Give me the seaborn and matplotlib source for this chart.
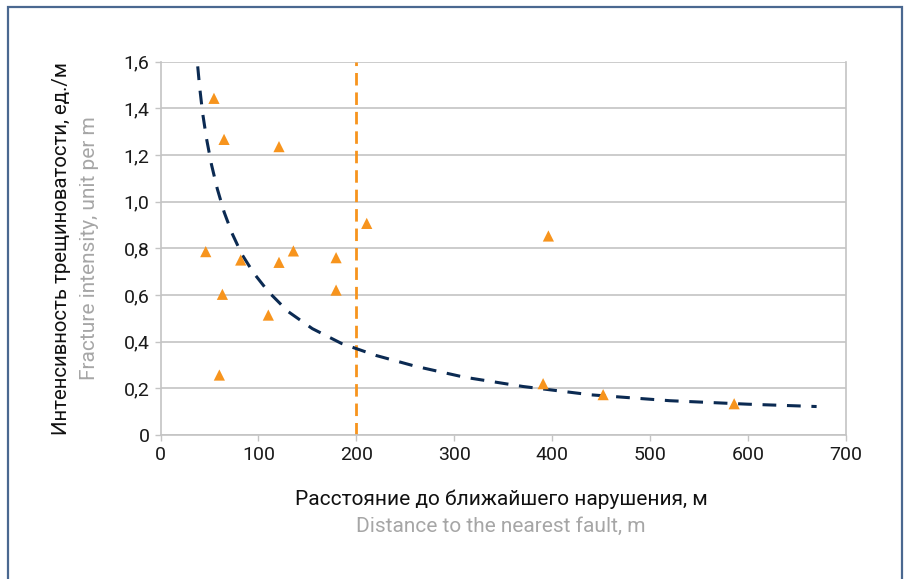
import matplotlib
matplotlib.use("Agg")
import matplotlib.pyplot as plt
import seaborn as sns
import pandas as pd
from matplotlib.patches import Rectangle

# ---- data ----
distance = [54.6, 64.9, 121.0, 46.2, 81.9, 121.0, 135.7, 179.3, 210.6, 63.2,
            179.3, 110.1, 60.1, 396.1, 390.7, 452.0, 585.8]
intensity = [1.443, 1.267, 1.236, 0.786, 0.750, 0.740, 0.789, 0.760, 0.907, 0.603,
             0.621, 0.514, 0.257, 0.853, 0.220, 0.173, 0.134]

# dashed trend line
trend_x = [38, 40, 43, 47, 52, 58, 65, 73, 83, 95, 110, 130, 155, 185, 220,
           260, 310, 370, 440, 520, 600, 670]
trend_y = [1.580, 1.490, 1.380, 1.270, 1.160, 1.055, 0.955, 0.865, 0.775, 0.695,
           0.615, 0.530, 0.456, 0.392, 0.341, 0.295, 0.248, 0.208, 0.172, 0.147,
           0.132, 0.122]

threshold_x = 200
x_ticks = [0, 100, 200, 300, 400, 500, 600, 700]
y_ticks = [0, 0.2, 0.4, 0.6, 0.8, 1.0, 1.2, 1.4, 1.6]
y_tick_labels = ["0", "0,2", "0,4", "0,6", "0,8", "1,0", "1,2", "1,4", "1,6"]

xlabel_ru = "Расстояние до ближайшего нарушения, м"
xlabel_en = "Distance to the nearest fault, m"
ylabel_ru = "Интенсивность трещиноватости, ед./м"
ylabel_en = "Fracture intensity, unit per m"

# ---- styling ----
sns.set_theme(style="white")
FONT = ["Roboto", "DejaVu Sans"]
plt.rcParams["font.family"] = FONT

ORANGE = "#F7941D"
NAVY = "#0B2A52"
GRID = "#C4C4C4"
GREY_TXT = "#A6A6A6"

fig = plt.figure(figsize=(9.06, 5.79), dpi=100)
ax = fig.add_axes([160.5 / 906, 1 - 435 / 579, (846 - 160.5) / 906, (435 - 61.7) / 579])

pts = pd.DataFrame({"distance": distance, "intensity": intensity})
trend = pd.DataFrame({"x": trend_x, "y": trend_y})

ax.axvline(threshold_x, ymin=0.0, ymax=1.0, color=ORANGE, lw=2.0,
           dashes=(4.5, 2.5), zorder=2)
sns.lineplot(data=trend, x="x", y="y", ax=ax, color=NAVY, lw=2.2,
             dashes=False, zorder=3, sort=False)
ax.lines[-1].set_dashes((4.5, 3.5))
ax.lines[-1].set_solid_joinstyle("round")
ax.lines[-1].set_dash_joinstyle("round")
sns.scatterplot(data=pts, x="distance", y="intensity", ax=ax, marker="^",
                s=65, color=ORANGE, edgecolor="none", linewidth=0, zorder=4)

ax.set_xlim(0, 700)
ax.set_ylim(0, 1.6)
ax.set_xticks(x_ticks)
ax.set_yticks(y_ticks)
ax.set_yticklabels(y_tick_labels)
ax.set_xlabel("")
ax.set_ylabel("")
ax.grid(axis="y", color=GRID, lw=1.2)
ax.grid(axis="x", visible=False)
for s in ax.spines.values():
    s.set_color(GRID)
    s.set_linewidth(1.2)
ax.spines["top"].set_visible(False)
ax.tick_params(axis="both", direction="out", length=4, width=1.0, color=GRID,
               labelsize=14, labelcolor="#1a1a1a", pad=4, bottom=True, left=True)

fig.text(0.5535, 1 - 499 / 579, xlabel_ru, ha="center", va="center",
         fontsize=15, color="#111111")
fig.text(0.5530, 1 - 526 / 579, xlabel_en, ha="center", va="center",
         fontsize=15, color=GREY_TXT)
fig.text(62 / 906, 1 - 248.5 / 579, ylabel_ru, ha="center", va="center",
         rotation=90, fontsize=14.7, color="#111111")
fig.text(90 / 906, 1 - 248 / 579, ylabel_en, ha="center", va="center",
         rotation=90, fontsize=15, color=GREY_TXT)

fig.patches.append(Rectangle((8 / 906, -0.05), (902 - 8) / 906, 1 - 7 / 579 + 0.05,
                             transform=fig.transFigure, fill=False,
                             edgecolor="#4A6890", lw=1.6, zorder=10))

fig.savefig("out.png", dpi=100)
